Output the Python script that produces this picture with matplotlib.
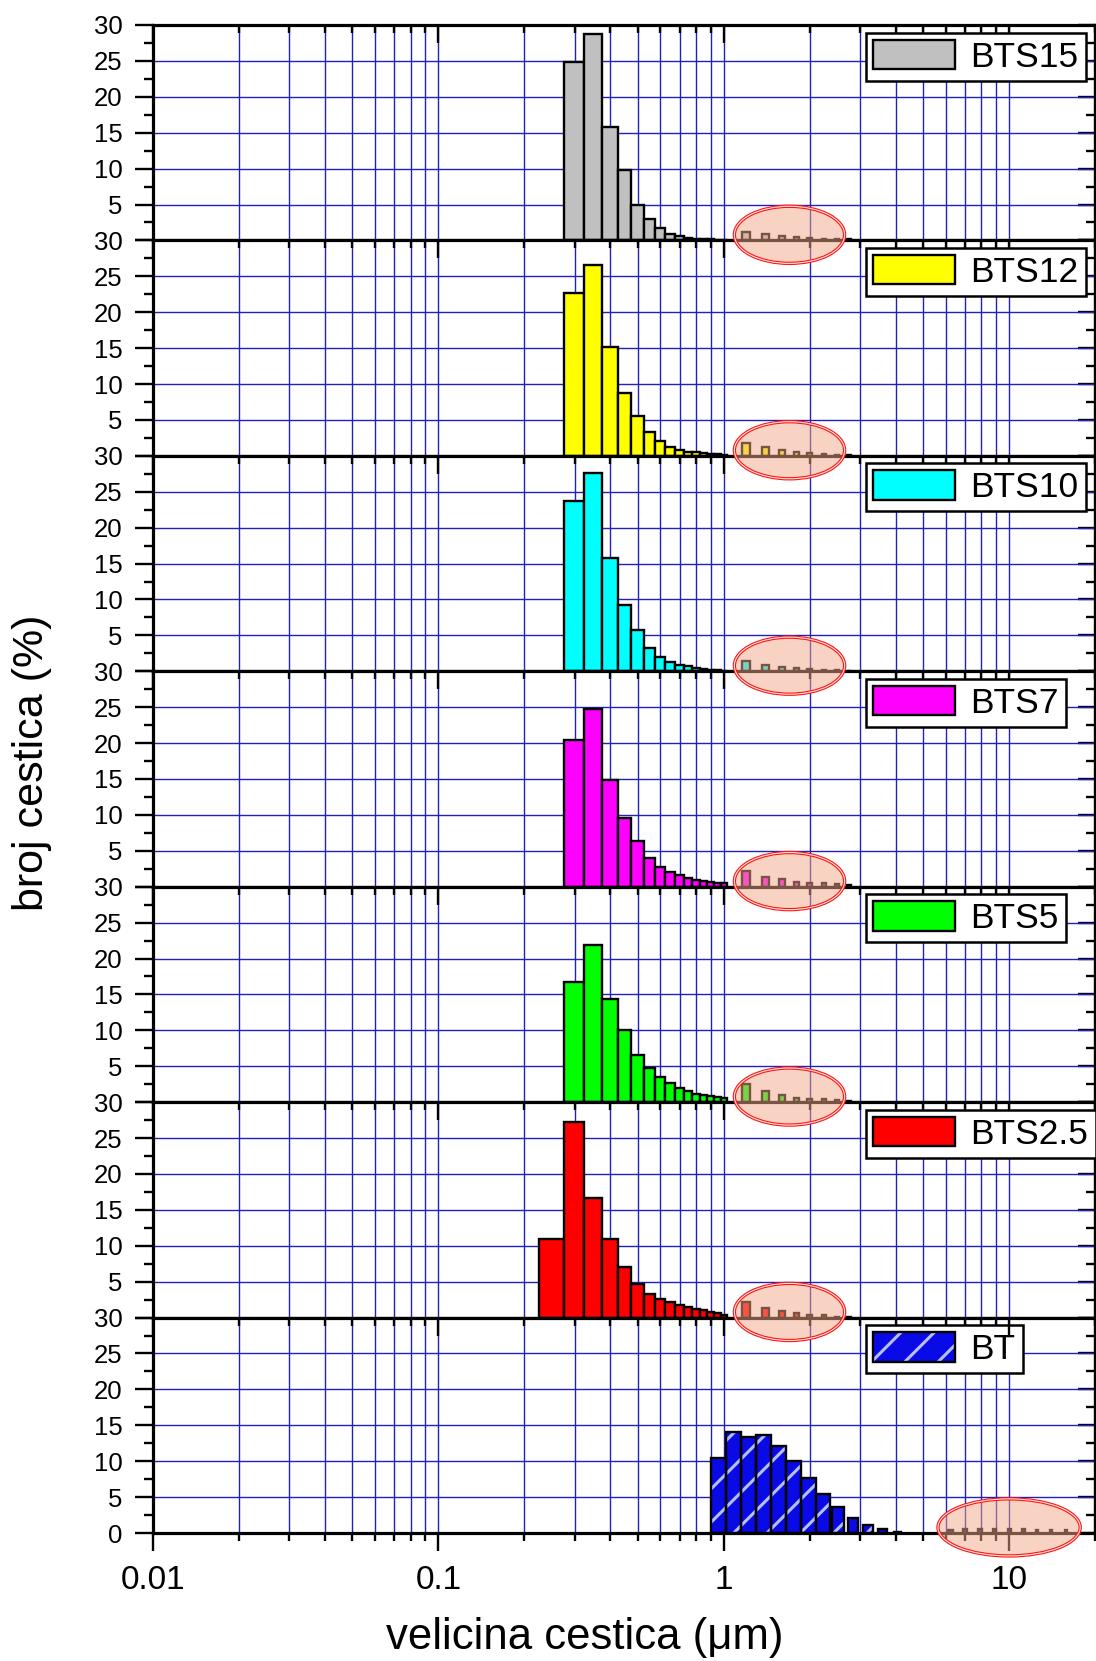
import matplotlib

matplotlib.use("Agg")
import matplotlib.pyplot as plt
import numpy as np
from matplotlib.legend_handler import HandlerTuple
from matplotlib.patches import Ellipse, Patch
from matplotlib.ticker import LogLocator, MultipleLocator, NullFormatter

plt.rcParams["font.family"] = ["Liberation Sans", "DejaVu Sans"]
plt.rcParams["hatch.linewidth"] = 2.2

# particle size classes (um)
fine_sizes = [0.25, 0.30, 0.35, 0.40, 0.45, 0.50, 0.55, 0.60, 0.65, 0.70, 0.75, 0.80, 0.85, 0.90, 0.95, 1.00]
tail_sizes = [1.2, 1.4, 1.6, 1.8, 2.0, 2.25, 2.5, 2.75]
bt_sizes = [0.96, 1.08, 1.22, 1.38, 1.55, 1.75, 1.98, 2.23, 2.52, 2.84, 3.20, 3.61, 4.07]
bt_tail_sizes = [6.25, 7.0, 7.9, 8.9, 10.0, 11.2, 12.5, 14.0, 15.8]

# number fraction (%) per size class
bts15 = [0, 24.9, 28.8, 15.8, 9.8, 5.0, 3.0, 1.7, 0.93, 0.6, 0.37, 0.25, 0.2, 0.15, 0.1, 0.1]
bts12 = [0, 22.7, 26.6, 15.1, 8.8, 5.6, 3.3, 2.0, 1.3, 0.84, 0.6, 0.47, 0.37, 0.28, 0.2, 0.15]
bts10 = [0, 23.7, 27.6, 15.8, 9.3, 5.8, 3.3, 2.0, 1.3, 0.93, 0.7, 0.47, 0.33, 0.23, 0.15, 0.1]
bts7 = [0, 20.5, 24.7, 14.9, 9.5, 6.4, 4.0, 2.8, 2.1, 1.6, 1.26, 1.0, 0.84, 0.7, 0.56, 0.47]
bts5 = [0, 16.8, 21.9, 14.3, 10.1, 6.6, 4.8, 3.5, 2.6, 2.0, 1.5, 1.17, 0.93, 0.8, 0.7, 0.56]
bts2_5 = [10.9, 27.2, 16.6, 10.9, 7.0, 4.7, 3.3, 2.6, 2.2, 1.8, 1.5, 1.2, 1.0, 0.8, 0.6, 0.4]

bts15_tail = [1.16, 0.93, 0.65, 0.47, 0.33, 0.25, 0.2, 0.15]
bts12_tail = [1.8, 1.17, 0.84, 0.5, 0.37, 0.28, 0.14, 0.1]
bts10_tail = [1.4, 0.93, 0.6, 0.47, 0.33, 0.23, 0.15, 0.1]
bts7_tail = [2.2, 1.4, 1.07, 0.7, 0.56, 0.47, 0.33, 0.2]
bts5_tail = [2.5, 1.6, 0.93, 0.6, 0.47, 0.37, 0.23, 0.15]
bts2_5_tail = [2.2, 1.3, 0.85, 0.6, 0.35, 0.3, 0.1, 0.05]

bt = [10.4, 14.0, 13.4, 13.7, 12.1, 10.0, 7.7, 5.4, 3.6, 2.1, 1.1, 0.5, 0.2]
bt_tail = [0.45, 0.5, 0.5, 0.5, 0.5, 0.5, 0.45, 0.45, 0.4]

sample_names = ["BTS15", "BTS12", "BTS10", "BTS7", "BTS5", "BTS2.5"]
sample_colors = ["#c0c0c0", "#ffff00", "#00ffff", "#ff00ff", "#00ff00", "#ff0000"]
sample_fine = [bts15, bts12, bts10, bts7, bts5, bts2_5]
sample_tail = [bts15_tail, bts12_tail, bts10_tail, bts7_tail, bts5_tail, bts2_5_tail]
bt_name = "BT"
bt_color = "#0a0ae6"

x_ticks = [0.01, 0.1, 1, 10]
x_tick_labels = ["0.01", "0.1", "1", "10"]
y_ticks = [0, 5, 10, 15, 20, 25, 30]

X_MIN, X_MAX = 0.01, 20
GRID_COLOR = "#2222bb"
HATCH_COLOR = "#b4c0ff"
BT_STEP = 1.128  # geometric step of the BT size classes


def linear_bins(sizes, width):
    lo = np.asarray(sizes) - width / 2
    return lo, np.full(len(sizes), width)


def bt_bins(sizes):
    c = np.asarray(sizes)
    lo = np.maximum(c - 0.125, c / np.sqrt(BT_STEP))
    hi = np.minimum(c + 0.125, c * np.sqrt(BT_STEP))
    return lo, hi - lo


def draw_bars(ax, lo, w, h, color, hatch=None):
    h = np.asarray(h, dtype=float)
    keep = h > 0
    if hatch:
        ax.bar(lo[keep], h[keep], width=w[keep], align="edge", color=color,
               hatch=hatch, edgecolor=HATCH_COLOR, linewidth=0, zorder=2)
        ax.bar(lo[keep], h[keep], width=w[keep], align="edge", facecolor="none",
               edgecolor="black", linewidth=1.7, zorder=3)
    else:
        ax.bar(lo[keep], h[keep], width=w[keep], align="edge", color=color,
               edgecolor="black", linewidth=1.7, zorder=2)


def mark_tail(fig, ax, x_center, width_frac):
    span = np.log10(X_MAX) - np.log10(X_MIN)
    xc = (np.log10(x_center) - np.log10(X_MIN)) / span
    common = dict(transform=ax.transAxes)
    fig.add_artist(Ellipse((xc, 0.026), width_frac, 0.265, facecolor="#f3a888",
                           alpha=0.5, edgecolor="none", zorder=10, **common))
    fig.add_artist(Ellipse((xc, 0.026), width_frac, 0.265, facecolor="none",
                           edgecolor="#ff1414", linewidth=2.4, zorder=11, **common))
    fig.add_artist(Ellipse((xc, 0.026), width_frac, 0.265, facecolor="none",
                           edgecolor="#fbe6de", linewidth=0.8, zorder=12, **common))


def style_panel(ax, last):
    ax.set_xscale("log")
    ax.set_xlim(X_MIN, X_MAX)
    ax.set_ylim(0, 30)
    ax.set_xticks(x_ticks, x_tick_labels if last else [""] * len(x_ticks))
    ax.xaxis.set_minor_locator(LogLocator(base=10, subs=np.arange(2, 10), numticks=30))
    ax.xaxis.set_minor_formatter(NullFormatter())
    ylabels = [str(v) for v in y_ticks]
    if not last:
        ylabels[0] = ""
    ax.set_yticks(y_ticks, ylabels)
    ax.yaxis.set_minor_locator(MultipleLocator(2.5))
    ax.set_axisbelow(True)
    ax.grid(True, which="both", axis="x", color=GRID_COLOR, linewidth=1.0)
    ax.grid(True, which="major", axis="y", color=GRID_COLOR, linewidth=1.0)
    for sp in ax.spines.values():
        sp.set_linewidth(2.3)

    ax.tick_params(axis="y", which="both", direction="out", left=True, right=False,
                   labelsize=18.5, pad=9, width=1.7)
    ax.tick_params(axis="y", which="major", length=13)
    ax.tick_params(axis="y", which="minor", length=6.5)

    right = ax.secondary_yaxis("right")
    right.set_yticks(y_ticks, [""] * len(y_ticks))
    right.yaxis.set_minor_locator(MultipleLocator(2.5))
    right.tick_params(axis="y", which="both", direction="in", width=1.7)
    right.tick_params(axis="y", which="major", length=12)
    right.tick_params(axis="y", which="minor", length=6.5)
    right.spines["right"].set_linewidth(2.3)

    if last:
        ax.tick_params(axis="x", which="both", direction="out", top=False, bottom=True,
                       labelbottom=True, labelsize=24, pad=10, width=1.7)
        top = ax.twiny()
        top.set_xscale("log")
        top.set_xlim(X_MIN, X_MAX)
        top.set_xticks(x_ticks, [""] * len(x_ticks))
        top.xaxis.set_minor_locator(LogLocator(base=10, subs=np.arange(2, 10), numticks=30))
        top.xaxis.set_minor_formatter(NullFormatter())
        top.tick_params(axis="x", which="both", direction="in", width=1.7)
        top.tick_params(axis="x", which="major", length=13)
        top.tick_params(axis="x", which="minor", length=6)
        for sp in top.spines.values():
            sp.set_visible(False)
    else:
        ax.tick_params(axis="x", which="both", direction="in", top=True, bottom=False,
                       labelbottom=False, width=1.7)
    ax.tick_params(axis="x", which="major", length=13)
    ax.tick_params(axis="x", which="minor", length=6)


def add_legend(ax, handle, name):
    leg = ax.legend([handle], [name], loc="upper left", bbox_to_anchor=(0.757, 0.965),
                    borderaxespad=0, fontsize=25.5, handlelength=2.3, handleheight=0.9,
                    handletextpad=0.45, borderpad=0.2, fancybox=False, framealpha=1,
                    edgecolor="black", handler_map={tuple: HandlerTuple(ndivide=1)})
    leg.get_frame().set_linewidth(1.8)
    leg.set_zorder(20)


fig = plt.figure(figsize=(10.96, 16.61), dpi=100)
axes = fig.subplots(7, 1, sharex=False, gridspec_kw=dict(hspace=0))
fig.subplots_adjust(left=153 / 1096, right=1095 / 1096, top=1 - 25 / 1661, bottom=1 - 1533 / 1661)

fine_lo, fine_w = linear_bins(fine_sizes, 0.05)
tail_lo, tail_w = linear_bins(tail_sizes, 0.08)

for ax, name, color, fine, tail in zip(axes[:6], sample_names, sample_colors, sample_fine, sample_tail):
    draw_bars(ax, fine_lo, fine_w, fine, color)
    draw_bars(ax, tail_lo, tail_w, tail, color)
    style_panel(ax, last=False)
    add_legend(ax, Patch(facecolor=color, edgecolor="black", linewidth=1.7), name)
    mark_tail(fig, ax, 1.7, 0.117)

ax = axes[6]
bt_lo, bt_w = bt_bins(bt_sizes)
btt_lo, btt_w = bt_bins(bt_tail_sizes)
draw_bars(ax, bt_lo, bt_w, bt, bt_color, hatch="/")
draw_bars(ax, btt_lo, btt_w, bt_tail, bt_color)
style_panel(ax, last=True)
bt_handle = (Patch(facecolor=bt_color, hatch="/", edgecolor=HATCH_COLOR, linewidth=0),
             Patch(facecolor="none", edgecolor="black", linewidth=1.7))
add_legend(ax, bt_handle, bt_name)
mark_tail(fig, ax, 10.0, 0.151)

fig.text(32 / 1096, 1 - 763 / 1661, "broj cestica (%)", rotation=90, ha="center", va="center", fontsize=31)
fig.text(585 / 1096, 1 - 1637 / 1661, "velicina cestica (\u03bcm)", ha="center", va="center", fontsize=31.5)

fig.savefig("out.png", dpi=100)
